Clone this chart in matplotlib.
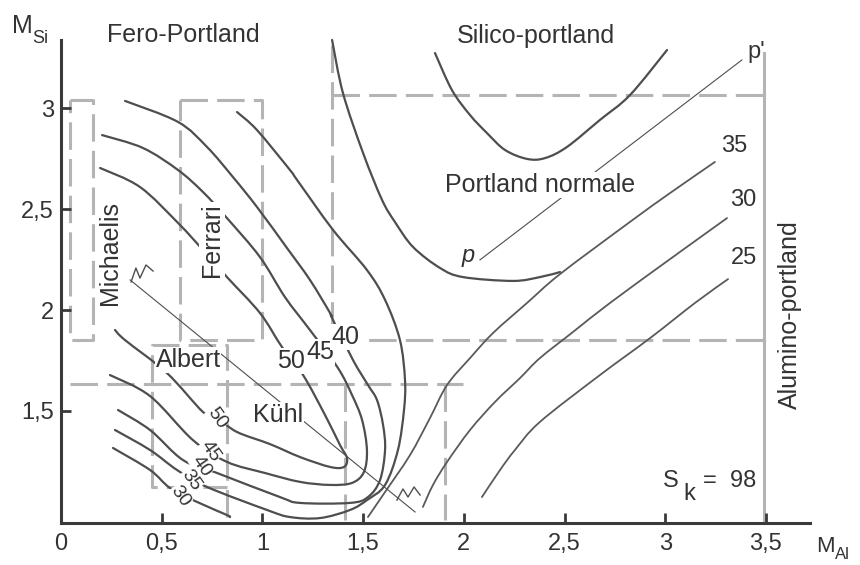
import matplotlib.pyplot as plt
from matplotlib.path import Path
from matplotlib.patches import PathPatch

plt.rcParams['font.family'] = ['Liberation Sans', 'DejaVu Sans']

# Kuehl diagram, M_Al on x and M_Si on y, S_k = 98
# iso-lines coming down from the Fero-Portland side, hooking near M_Al ~ 1.5
c50_x = [0.194, 0.392, 0.581, 0.705, 0.824, 0.988, 1.097, 1.202, 1.311, 1.385, 1.420, 1.405,
         1.336, 1.187, 1.038, 0.874, 0.775, 0.705, 0.526, 0.318, 0.268]
c50_y = [2.703, 2.609, 2.431, 2.297, 2.163, 1.985, 1.817, 1.678, 1.480, 1.332, 1.267, 1.223,
         1.223, 1.272, 1.336, 1.396, 1.465, 1.495, 1.688, 1.851, 1.901]
c45_x = [0.204, 0.407, 0.581, 0.705, 0.824, 0.988, 1.112, 1.236, 1.375, 1.445, 1.495, 1.519,
         1.504, 1.445, 1.336, 1.187, 1.013, 0.824, 0.655, 0.442, 0.243]
c45_y = [2.866, 2.802, 2.693, 2.584, 2.455, 2.262, 2.064, 1.901, 1.713, 1.579, 1.455, 1.307,
         1.198, 1.144, 1.134, 1.149, 1.193, 1.248, 1.356, 1.574, 1.678]
c40_x = [0.318, 0.581, 0.725, 0.854, 0.973, 1.122, 1.236, 1.336, 1.346, 1.450, 1.524, 1.569,
         1.599, 1.609, 1.584, 1.524, 1.435, 1.187, 1.087, 0.775, 0.606, 0.442, 0.283]
c40_y = [3.035, 2.931, 2.807, 2.658, 2.510, 2.307, 2.149, 1.985, 1.960, 1.752, 1.629, 1.554,
         1.431, 1.307, 1.158, 1.074, 1.045, 1.045, 1.074, 1.193, 1.257, 1.406, 1.505]
c35_x = [0.874, 0.973, 1.137, 1.172, 1.351, 1.519, 1.609, 1.683, 1.708, 1.703, 1.673, 1.609,
         1.519, 1.435, 1.286, 1.137, 1.023, 0.725, 0.576, 0.442, 0.268]
c35_y = [2.980, 2.891, 2.693, 2.644, 2.396, 2.198, 2.050, 1.851, 1.653, 1.505, 1.307, 1.134,
         1.059, 1.010, 0.970, 0.975, 1.010, 1.124, 1.208, 1.307, 1.406]
c30_x = [0.258, 0.442, 0.541, 0.675, 0.824, 0.839]
c30_y = [1.317, 1.208, 1.119, 1.050, 0.985, 0.975]

# right-hand family
p_x = [1.346, 1.400, 1.500, 1.594, 1.658, 1.748, 1.882, 1.996, 2.244, 2.378, 2.478]
p_y = [3.337, 3.074, 2.777, 2.545, 2.436, 2.312, 2.208, 2.163, 2.144, 2.163, 2.188]
r35_x = [1.524, 1.609, 1.733, 1.832, 1.917, 2.031, 2.145, 2.314, 2.478, 2.825, 3.024, 3.247]
r35_y = [0.975, 1.099, 1.282, 1.465, 1.629, 1.762, 1.886, 2.035, 2.178, 2.436, 2.579, 2.733]
r30_x = [1.797, 1.847, 1.917, 2.031, 2.155, 2.279, 2.378, 2.542, 2.726, 3.024, 3.307]
r30_y = [1.025, 1.134, 1.248, 1.406, 1.545, 1.663, 1.762, 1.891, 2.035, 2.252, 2.455]
r25_x = [2.090, 2.180, 2.254, 2.378, 2.676, 2.925, 3.148, 3.312]
r25_y = [1.074, 1.208, 1.307, 1.446, 1.678, 1.861, 2.035, 2.153]
sil_x = [1.857, 1.941, 2.031, 2.115, 2.205, 2.314, 2.403, 2.512, 2.676, 2.825, 3.009]
sil_y = [3.272, 3.089, 2.965, 2.876, 2.792, 2.748, 2.752, 2.807, 2.941, 3.064, 3.287]
pp_x = [2.080, 3.381]
pp_y = [2.248, 3.238]

# thin pointer line and the two little squiggles at its ends
ptr_x = [0.343, 1.758]
ptr_y = [2.149, 1.000]
sq1_x = [0.348, 0.372, 0.392, 0.422, 0.457]
sq1_y = [2.139, 2.208, 2.158, 2.223, 2.193]
sq2_x = [1.668, 1.698, 1.723, 1.753, 1.783]
sq2_y = [1.059, 1.114, 1.074, 1.124, 1.084]

# grey dashed domain boxes
mich_x = [0.045, 0.159, 0.159, 0.045, 0.045]
mich_y = [3.040, 3.040, 1.851, 1.851, 3.040]
ferr_x = [0.591, 0.998, 0.998, 0.591, 0.591]
ferr_y = [3.040, 3.040, 1.851, 1.851, 3.040]
alb_x = [0.824, 0.824, 0.452, 0.452, 0.824]
alb_y = [0.975, 1.827, 1.827, 1.124, 1.124]
kuhl_lines = [([0.045, 1.996], [1.634, 1.634]),
              ([1.410, 1.410], [1.634, 0.960]),
              ([1.907, 1.907], [1.634, 0.960])]
port_lines = [([1.346, 1.346], [3.312, 1.851]),
              ([1.346, 3.486], [3.064, 3.064]),
              ([1.346, 3.486], [1.851, 1.851])]
alu_x = [3.491, 3.491]
alu_y = [3.272, 0.946]

xticks = [0, 0.5, 1, 1.5, 2, 2.5, 3, 3.5]
xlabels = ['0', '0,5', '1', '1,5', '2', '2,5', '3', '3,5']
yticks = [1.5, 2, 2.5, 3]
ylabels = ['1,5', '2', '2,5', '3']


# smooth curve through the read points (Catmull-Rom drawn as cubic Bezier segments)
def smooth_line(ax, xs, ys, **kw):
    pts = list(zip(xs, ys))
    n = len(pts)
    verts = [pts[0]]
    codes = [Path.MOVETO]
    for i in range(n - 1):
        p0 = pts[max(i - 1, 0)]
        p1 = pts[i]
        p2 = pts[i + 1]
        p3 = pts[min(i + 2, n - 1)]
        c1 = (p1[0] + (p2[0] - p0[0]) / 6, p1[1] + (p2[1] - p0[1]) / 6)
        c2 = (p2[0] - (p3[0] - p1[0]) / 6, p2[1] - (p3[1] - p1[1]) / 6)
        verts += [c1, c2, p2]
        codes += [Path.CURVE4] * 3
    ax.add_patch(PathPatch(Path(verts, codes), fill=False, capstyle='round',
                           joinstyle='round', **kw))


fig = plt.figure(figsize=(8.6, 5.65), dpi=100)
ax = fig.add_axes([0, 0, 1, 1])
ax.set_xlim(-0.3029, 3.9672)
ax.set_ylim(0.7376, 3.5347)

grey = '#b4b4b4'
dash = dict(color=grey, lw=2.2, dashes=(9, 3), zorder=1)
for bx, by in [(mich_x, mich_y), (ferr_x, ferr_y), (alb_x, alb_y)] + kuhl_lines + port_lines:
    ax.plot(bx, by, **dash)
ax.plot(alu_x, alu_y, color=grey, lw=2.2, zorder=1)

ink = '#4e4e4e'
for cx, cy in [(c50_x, c50_y), (c45_x, c45_y), (c40_x, c40_y), (c35_x, c35_y), (c30_x, c30_y),
               (p_x, p_y), (sil_x, sil_y)]:
    smooth_line(ax, cx, cy, edgecolor=ink, lw=1.6, zorder=2)
for cx, cy in [(r35_x, r35_y), (r30_x, r30_y), (r25_x, r25_y)]:
    smooth_line(ax, cx, cy, edgecolor='#5a5a5a', lw=1.3, zorder=2)
ax.plot(pp_x, pp_y, color=ink, lw=0.8, zorder=2)
ax.plot(ptr_x, ptr_y, color=ink, lw=0.8, zorder=2)
ax.plot(sq1_x, sq1_y, color=ink, lw=1.0, zorder=2)
ax.plot(sq2_x, sq2_y, color=ink, lw=1.0, zorder=2)

# axes as two spines with inward ticks
for s in ['top', 'right']:
    ax.spines[s].set_visible(False)
ax.spines['left'].set_position(('data', 0))
ax.spines['left'].set_bounds(0.946, 3.337)
ax.spines['bottom'].set_position(('data', 0.946))
ax.spines['bottom'].set_bounds(0, 3.719)
for s in ['left', 'bottom']:
    ax.spines[s].set_color('#3a3a3a')
    ax.spines[s].set_linewidth(2.2)
ax.set_xticks(xticks, xlabels)
ax.set_yticks(yticks, ylabels)
ax.tick_params(direction='in', length=7, width=2, color='#3a3a3a', labelsize=17,
               labelcolor='#333333')
ax.tick_params(axis='x', pad=7)
ax.tick_params(axis='y', pad=5)

txt = '#333333'
wb = dict(facecolor='white', edgecolor='none', pad=0.6)
big = 18
ax.text(0.606, 3.327, 'Fero-Portland', fontsize=big, color=txt, ha='center', va='baseline')
ax.text(2.358, 3.322, 'Silico-portland', fontsize=big, color=txt, ha='center', va='baseline')
ax.text(2.378, 2.584, 'Portland normale', fontsize=big, color=txt, ha='center', va='baseline',
        bbox=wb, zorder=3)
ax.text(0.243, 2.282, 'Michaelis', fontsize=big, color=txt, ha='center', va='center',
        rotation=90, zorder=3)
ax.text(0.750, 2.347, 'Ferrari', fontsize=big, color=txt, ha='center', va='center',
        rotation=90, bbox=wb, zorder=3)
ax.text(0.631, 1.718, 'Albert', fontsize=big, color=txt, ha='center', va='baseline',
        bbox=wb, zorder=3)
ax.text(1.077, 1.446, 'Kühl', fontsize=big, color=txt, ha='center', va='baseline',
        bbox=wb, zorder=3)
ax.text(3.620, 1.975, 'Alumino-portland', fontsize=big, color=txt, ha='center', va='center',
        rotation=90)

# axis names
ax.text(-0.243, 3.371, 'M', fontsize=18, color=txt, va='baseline')
ax.text(-0.144, 3.322, 'Si', fontsize=13, color=txt, va='baseline')
ax.text(3.750, 0.800, 'M', fontsize=16, color=txt, va='baseline')
ax.text(3.845, 0.765, 'Al', fontsize=12, color=txt, va='baseline')

# S_k = 98
ax.text(2.989, 1.124, 'S', fontsize=17, color=txt, va='baseline')
ax.text(3.088, 1.059, 'k', fontsize=17, color=txt, va='baseline')
ax.text(3.188, 1.124, '=  98', fontsize=17, color=txt, va='baseline')

ax.text(1.991, 2.238, 'p', fontsize=17, color=txt, va='baseline', style='italic')
ax.text(3.406, 3.248, "p'", fontsize=17, color=txt, va='baseline')

# iso-line labels
lab = dict(fontsize=18, color=txt, ha='center', va='center', bbox=wb, zorder=3)
ax.text(1.142, 1.748, '50', **lab)
ax.text(1.286, 1.792, '45', **lab)
ax.text(1.410, 1.866, '40', **lab)
rlab = dict(fontsize=17, color=txt, ha='center', va='center', zorder=3)
ax.text(3.342, 2.812, '35', **rlab)
ax.text(3.386, 2.545, '30', **rlab)
ax.text(3.391, 2.257, '25', **rlab)
slab = dict(fontsize=14, color=txt, ha='center', va='center', rotation=-55,
            bbox=dict(facecolor='white', edgecolor='none', pad=0.2), zorder=3)
ax.text(0.775, 1.465, '50', **slab)
ax.text(0.740, 1.302, '45', **slab)
ax.text(0.695, 1.228, '40', **slab)
ax.text(0.645, 1.158, '35', **slab)
ax.text(0.591, 1.079, '30', **slab)

fig.savefig('out.png', dpi=100)
